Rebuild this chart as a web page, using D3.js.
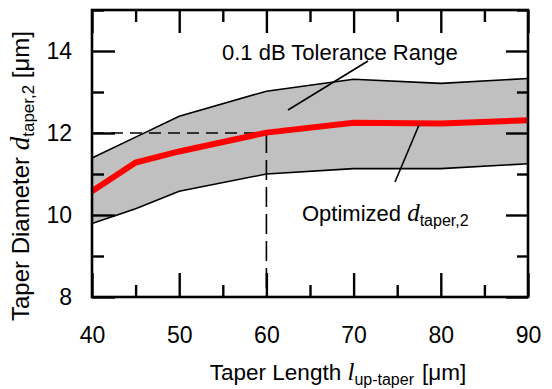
<!DOCTYPE html>
<html><head><meta charset="utf-8">
<script src="https://cdn.jsdelivr.net/npm/d3@7"></script>
<style>
html,body{margin:0;padding:0;background:#fff;}
svg text{font-family:"Liberation Sans",Arial,sans-serif;fill:#000;}
</style></head>
<body>
<svg id="c" width="552" height="389"></svg>
<script>
const lengths = [40, 45, 50, 60, 70, 80, 90];
const upperBound = [11.39, 11.9, 12.41, 13.02, 13.31, 13.21, 13.33];
const lowerBound = [9.79, 10.15, 10.58, 11.0, 11.13, 11.13, 11.25];
const optimized = [10.58, 11.28, 11.55, 12.01, 12.25, 12.23, 12.31];
const xMajorTicks = [40, 50, 60, 70, 80, 90];
const xMinorTicks = [45, 55, 65, 75, 85];
const yMajorTicks = [8, 10, 12, 14];
const yMinorTicks = [9, 11, 13, 15];
const markerX = 60, markerY = 12;

const svg = d3.select("#c");
const L = 92, R = 528, T = 10, B = 297;
const x = d3.scaleLinear().domain([40, 90]).range([L, R]);
const y = d3.scaleLinear().domain([8, 15]).range([B, T]);

const data = lengths.map((l, i) => ({l, up: upperBound[i], lo: lowerBound[i], opt: optimized[i]}));

// band
svg.append("path").datum(data)
  .attr("d", d3.area().x(d => x(d.l)).y0(d => y(d.lo)).y1(d => y(d.up)))
  .attr("fill", "#c0c0c0");
const ln = key => d3.line().x(d => x(d.l)).y(d => y(d[key]));
svg.append("path").datum(data).attr("d", ln("up")).attr("fill", "none").attr("stroke", "#000").attr("stroke-width", 1.6);
svg.append("path").datum(data).attr("d", ln("lo")).attr("fill", "none").attr("stroke", "#000").attr("stroke-width", 1.6);

// dashed guide lines
svg.append("path")
  .attr("d", `M${x(40)},${y(markerY)}H${x(markerX)}`)
  .attr("fill", "none").attr("stroke", "#000").attr("stroke-width", 1.6)
  .attr("stroke-dasharray", "12,7");
svg.append("path")
  .attr("d", `M${x(markerX)},${y(markerY)}V${y(8)}`)
  .attr("fill", "none").attr("stroke", "#000").attr("stroke-width", 1.6)
  .attr("stroke-dasharray", "20,7");

// red line
svg.append("path").datum(data).attr("d", ln("opt")).attr("fill", "none")
  .attr("stroke", "#ff0000").attr("stroke-width", 6);

// axes ticks (inward)
function styleAxis(g){ g.select(".domain").remove(); g.selectAll("line").attr("stroke","#000").attr("stroke-width",2.4); }
svg.append("g").attr("transform", `translate(0,${B})`)
  .call(d3.axisBottom(x).tickValues(xMajorTicks).tickSize(-24).tickPadding(30).tickFormat(d3.format("d")))
  .call(styleAxis).call(g => g.selectAll("text").attr("font-size", 23).attr("font-family","Liberation Sans, Arial, sans-serif"));
svg.append("g").attr("transform", `translate(0,${B})`)
  .call(d3.axisBottom(x).tickValues(xMinorTicks).tickSize(-12).tickFormat(""))
  .call(styleAxis);
svg.append("g").attr("transform", `translate(0,${T})`)
  .call(d3.axisTop(x).tickValues(xMajorTicks).tickSize(-23).tickFormat(""))
  .call(styleAxis);
svg.append("g").attr("transform", `translate(0,${T})`)
  .call(d3.axisTop(x).tickValues(xMinorTicks).tickSize(-12).tickFormat(""))
  .call(styleAxis);
svg.append("g").attr("transform", `translate(${L},0)`)
  .call(d3.axisLeft(y).tickValues(yMajorTicks).tickSize(-23).tickPadding(20).tickFormat(d3.format("d")))
  .call(styleAxis).call(g => g.selectAll("text").attr("font-size", 23).attr("font-family","Liberation Sans, Arial, sans-serif"));
svg.append("g").attr("transform", `translate(${L},0)`)
  .call(d3.axisLeft(y).tickValues(yMinorTicks).tickSize(-12).tickFormat(""))
  .call(styleAxis);
svg.append("g").attr("transform", `translate(${R},0)`)
  .call(d3.axisRight(y).tickValues(yMajorTicks).tickSize(-22).tickFormat(""))
  .call(styleAxis);
svg.append("g").attr("transform", `translate(${R},0)`)
  .call(d3.axisRight(y).tickValues(yMinorTicks).tickSize(-11).tickFormat(""))
  .call(styleAxis);

// frame
svg.append("rect").attr("x", L).attr("y", T).attr("width", R - L).attr("height", B - T)
  .attr("fill", "none").attr("stroke", "#000").attr("stroke-width", 2.6);

// annotations
svg.append("text").attr("x", 222).attr("y", 60).attr("font-size", 22).text("0.1 dB Tolerance Range");
svg.append("line").attr("x1", 368).attr("y1", 61).attr("x2", 288).attr("y2", 110).attr("stroke", "#000").attr("stroke-width", 1.6);
const t2 = svg.append("text").attr("x", 302).attr("y", 221).attr("font-size", 22);
t2.append("tspan").text("Optimized ");
t2.append("tspan").attr("font-family", "Liberation Serif, Times New Roman, serif").attr("font-style", "italic").attr("font-size", 25).text("d");
t2.append("tspan").attr("font-size", 16).attr("dy", 5).text("taper,2");
svg.append("line").attr("x1", 419).attr("y1", 125).attr("x2", 395).attr("y2", 182).attr("stroke", "#000").attr("stroke-width", 1.6);

// axis titles
const xt = svg.append("text").attr("x", 338).attr("y", 380).attr("text-anchor", "middle").attr("font-size", 22.5);
xt.append("tspan").text("Taper Length ");
xt.append("tspan").attr("font-family", "Liberation Serif, Times New Roman, serif").attr("font-style", "italic").attr("font-size", 25).text("l");
xt.append("tspan").attr("font-size", 16).attr("dy", 5).text("up-taper");
xt.append("tspan").attr("dy", -5).attr("dx", 8).text("[μm]");

const yt = svg.append("text").attr("transform", "translate(29,176) rotate(-90)").attr("text-anchor", "middle").attr("font-size", 24);
yt.append("tspan").text("Taper Diameter ");
yt.append("tspan").attr("font-family", "Liberation Serif, Times New Roman, serif").attr("font-style", "italic").attr("font-size", 27).text("d");
yt.append("tspan").attr("font-size", 17).attr("dy", 5).text("taper,2");
yt.append("tspan").attr("dy", -5).text(" [μm]");
</script>
</body></html>
